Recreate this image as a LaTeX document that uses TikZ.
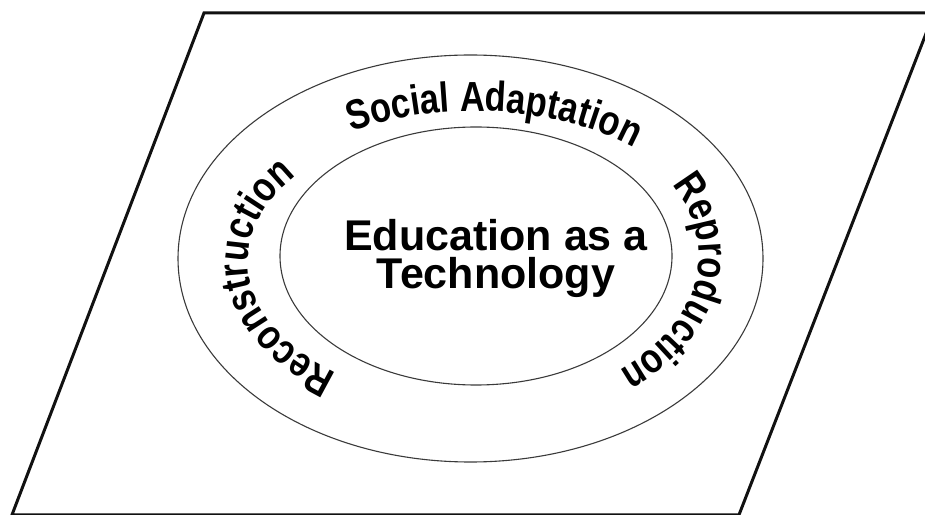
\documentclass[tikz,border=0pt]{standalone}
\usepackage{fontspec}
\setmainfont{Liberation Sans}
\newfontfamily\arcfont{Liberation Sans}[FakeStretch=0.82]
\usetikzlibrary{calc,decorations.text}
\definecolor{frameink}{HTML}{111111}
\definecolor{ringink}{HTML}{3A3A3A}
\tikzset{
  frameline/.style={draw=frameink, line width=3pt, line join=miter},
  ringline/.style={draw=ringink, line width=1.1pt},
  coretext/.style={font=\fontsize{43}{38}\selectfont\bfseries, align=center,
    inner sep=0pt, text=black},
  arclabel/.style={decorate, decoration={text along path, text align=center,
    text={|\arcfont\bfseries\fontsize{42}{42}\selectfont|#1}}}
}

\begin{document}
\begin{tikzpicture}[x=1pt,y=1pt]
  \useasboundingbox (0,0) rectangle (925,514);
  % the slanted frame, its right corner runs off the page
  \draw[frameline] (12,-0.8) -- (204,501) -- (934,501) -- (739,-0.8) -- cycle;

  % two rings
  \coordinate (outerc) at (470.5,255.5);
  \coordinate (innerc) at (476,258);
  \draw[ringline] (outerc) ellipse [x radius=292.5, y radius=203.5];
  \draw[ringline] (innerc) ellipse [x radius=196, y radius=129];

  \node[coretext] (core) at (496,256) {Education as a\\Technology};

  % labels set clockwise in the band, tops outward
  \coordinate (bandc) at (474,258);
  \coordinate (bandl) at (474,252);
  \path[arclabel={Social Adaptation}]
    ($(bandc)+(172:240 and 145)$) arc[start angle=172, end angle=-8, x radius=240, y radius=145];
  \path[arclabel={Reproduction}]
    ($(bandc)+(81.3:225 and 149)$) arc[start angle=81.3, end angle=-98.7, x radius=225, y radius=149];
  \path[arclabel={Reconstruction}]
    ($(bandl)+(276:226 and 140)$) arc[start angle=276, end angle=96, x radius=226, y radius=140];
\end{tikzpicture}
\end{document}
